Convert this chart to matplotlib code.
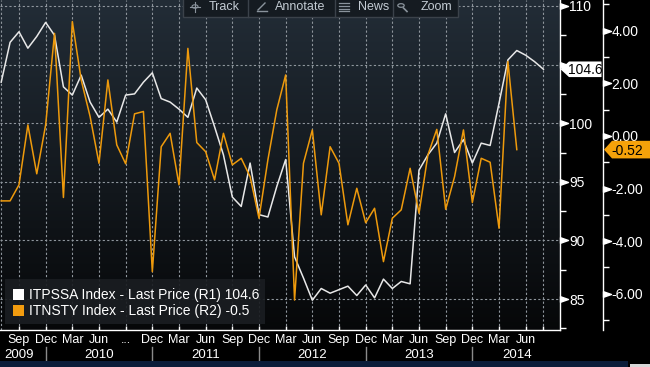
import numpy as np
import matplotlib
matplotlib.use('Agg')
import matplotlib.pyplot as plt
from matplotlib.transforms import blended_transform_factory
from matplotlib.patches import Rectangle, Polygon, Circle
from matplotlib.lines import Line2D
from matplotlib.path import Path

plt.rcParams['font.family'] = ['Liberation Sans', 'DejaVu Sans']

# ---------------- data (monthly, starting Jul 2009) ----------------
itpssa = [103.5, 106.9, 107.8, 106.4, 107.4, 108.6, 107.5, 103.1, 102.4, 104.1,
          101.8, 100.5, 101.2, 100.1, 102.4, 102.5, 103.5, 104.3, 102.1, 101.8,
          101.2, 100.5, 103.0, 102.0, 99.7, 97.3, 93.7, 92.9, 96.6, 92.2,
          92.0, 94.6, 96.9, 88.6, 86.8, 84.9, 85.9, 85.5, 85.8, 86.1,
          85.3, 86.2, 85.1, 86.7, 85.9, 86.5, 86.3, 96.0, 97.3, 98.3,
          100.8, 97.5, 98.6, 96.6, 98.3, 98.1, 101.7, 105.4, 106.2, 105.8,
          105.25, 104.6]
itnsty = [-2.47, -2.47, -1.86, 0.42, -1.44, 0.42, 3.90, -2.34, 4.35, 2.13,
          0.74, -1.04, 2.13, -0.34, -1.06, 0.84, 0.93, -5.16, -0.41, 0.10,
          -1.86, 3.33, -0.25, -0.60, -1.67, 0.10, -1.10, -0.85, -1.55, -3.13,
          -0.91, 0.99, 2.32, -6.24, -1.04, 0.23, -3.00, -0.41, -1.04, -3.38,
          -1.99, -3.30, -2.75, -4.78, -3.13, -2.81, -1.23, -2.94, -0.72, 0.25,
          -2.79, -1.55, 0.23, -2.53, -0.85, -1.00, -3.51, 2.83, -0.52]

tick_months = list(range(2, 60, 3))
tick_labels = ['Sep', 'Dec', 'Mar', 'Jun', '...', 'Dec', 'Mar', 'Jun', 'Sep', 'Dec',
               'Mar', 'Jun', 'Sep', 'Dec', 'Mar', 'Jun', 'Sep', 'Dec', 'Mar', 'Jun']
extra_ticks = [61]
years = ['2009', '2010', '2011', '2012', '2013', '2014']
year_pos = [2, 11, 23, 35, 47, 58]
year_sep = [5, 17, 29, 41, 53]

r1_labeled = [85, 90, 95, 100, 110]
r1_marks = [85, 90, 95, 100, 105, 110]
r1_minor = [82.5, 87.5, 92.5, 97.5, 102.5, 107.5]
r2_labeled = [-6, -4, -2, 0, 2, 4]
r2_minor = [-7, -5, -3, -1, 1, 3, 5]

legend_labels = ['ITPSSA Index - Last Price (R1) 104.6',
                 'ITNSTY Index - Last Price (R2) -0.5']

WHITE_LINE = '#e8e8e8'
ORANGE = '#ee9a0c'

W, H = 650, 367
fig = plt.figure(figsize=(W / 100, H / 100), dpi=100, facecolor='black')


def fx(px):
    return px / W


def fy(py):
    return 1 - py / H


AX_R = 560
AX_B = 330
ax = fig.add_axes([0, fy(AX_B), AX_R / W, AX_B / H])
ax.set_autoscale_on(False)
ax.set_facecolor('black')

# gradient background
top = np.array([0.135, 0.175, 0.215])
bot = np.array([0.025, 0.03, 0.035])
t = np.linspace(0, 1, 256)[:, None, None]
img = top * (1 - t) + bot * t
img = np.repeat(img, 2, axis=1)
ax.imshow(img, extent=[0, 1, 0, 1], transform=ax.transAxes, aspect='auto',
          zorder=0, interpolation='bilinear')

ax.set_xlim(-0.135, 62.86)
ax.set_ylim(82.36, 110.51)

# grid
grid_kw = dict(color='#8f969d', lw=0.8, ls=(0, (2, 2)), zorder=1)
for v in [0] + tick_months + extra_ticks:
    ax.axvline(v, **grid_kw)
for v in r1_marks:
    ax.axhline(v, **grid_kw)

x1 = np.arange(len(itpssa))
ax.plot(x1, itpssa, color=WHITE_LINE, lw=1.1, zorder=4)

ax2 = ax.twinx()
ax2.set_ylim(-7.38, 5.17)
x2 = np.arange(len(itnsty))
ax2.plot(x2, itnsty, color=ORANGE, lw=1.1, zorder=3)

# spines
for s in ['left', 'top']:
    ax.spines[s].set_visible(False)
ax.spines['right'].set_color('white')
ax.spines['bottom'].set_color('white')
ax.spines['right'].set_linewidth(1)
ax.spines['bottom'].set_linewidth(1)
for s in ['left', 'top', 'bottom']:
    ax2.spines[s].set_visible(False)
R2X = 603 / AX_R
ax2.spines['right'].set_position(('axes', R2X))
ax2.spines['right'].set_color('white')
ax2.spines['right'].set_linewidth(1)

# R1 ticks
ax.yaxis.tick_right()
ax.set_yticks(r1_labeled, [str(v) for v in r1_labeled])
ax.set_yticks(r1_minor, minor=True)
ax.tick_params(axis='y', which='major', length=0, pad=6.5, labelcolor='white', labelsize=10)
ax.tick_params(axis='y', which='minor', length=4, width=1, color='white', direction='out')

# R2 ticks
ax2.set_yticks(r2_labeled, ['%.2f' % v for v in r2_labeled])
ax2.set_yticks(r2_minor, minor=True)
ax2.tick_params(axis='y', which='major', length=0, pad=6, labelcolor='white', labelsize=10)
ax2.tick_params(axis='y', which='minor', length=4, width=1, color='white', direction='out')

# x ticks
ax.set_xticks(tick_months, tick_labels)
ax.set_xticks(extra_ticks, minor=True)
ax.tick_params(axis='x', which='both', length=3, width=1, direction='in', color='white',
               labelcolor='white', labelsize=9, pad=3)

# triangle tick markers
tri = Path([(0, -0.35), (0, 0.35), (1, 0), (0, -0.35)],
           [Path.MOVETO, Path.LINETO, Path.LINETO, Path.CLOSEPOLY])
ax.plot([1.0] * len(r1_marks), r1_marks,
        transform=blended_transform_factory(ax.transAxes, ax.transData),
        marker=tri, ms=11.5, color='white', ls='none', clip_on=False, zorder=6)
ax2.plot([R2X] * len(r2_labeled), r2_labeled,
         transform=blended_transform_factory(ax2.transAxes, ax2.transData),
         marker=tri, ms=11.5, color='white', ls='none', clip_on=False, zorder=6)

# years and separators
ytrans = blended_transform_factory(ax.transData, fig.transFigure)
for lab, p in zip(years, year_pos):
    ax.text(p, fy(355.5), lab, transform=ytrans, ha='center', va='center',
            color='white', fontsize=9.5, clip_on=False)
for s in year_sep:
    ax.add_line(Line2D([s, s], [fy(347), fy(362)], transform=ytrans,
                       color='#8a8a8a', lw=1, clip_on=False))

# legend
fig.add_artist(Rectangle((fx(5), fy(324)), 260 / W, 45 / H, transform=fig.transFigure,
                         facecolor='#1a1d21', edgecolor='none', alpha=0.92, zorder=10))
for i, (lab, col) in enumerate(zip(legend_labels, ['white', '#f29c0f'])):
    yc = 294.5 + i * 16.3
    fig.add_artist(Rectangle((fx(13), fy(yc + 5.5)), 11 / W, 11 / H,
                             transform=fig.transFigure, facecolor=col,
                             edgecolor='none', zorder=11))
    fig.text(fx(29), fy(yc), lab, color='white', fontsize=10, va='center',
             ha='left', zorder=12)

# toolbar
tb_col = '#c3cbd3'
icon_col = '#8a939c'
fig.add_artist(Rectangle((fx(183), fy(17)), (458 - 183) / W, 20 / H, transform=fig.transFigure,
                         facecolor='#151b21', edgecolor='#3b424a', lw=1, zorder=10))
for sx in [248, 335, 393]:
    fig.add_artist(Line2D([fx(sx), fx(sx)], [fy(17), fy(0)], transform=fig.transFigure,
                          color='#3b424a', lw=1, zorder=11))
for lab, lx in [('Track', 209), ('Annotate', 275), ('News', 358), ('Zoom', 421)]:
    fig.text(fx(lx), fy(7), lab, color=tb_col, fontsize=9, va='center', ha='left', zorder=12)
# icons
fig.add_artist(Circle((fx(195), fy(6.5)), 3 / W, transform=fig.transFigure, fill=False,
                      edgecolor=icon_col, lw=0.8, zorder=12))
fig.add_artist(Line2D([fx(190), fx(200)], [fy(6.5), fy(6.5)], transform=fig.transFigure,
                      color=icon_col, lw=0.8, zorder=12))
fig.add_artist(Line2D([fx(195), fx(195)], [fy(1.5), fy(11.5)], transform=fig.transFigure,
                      color=icon_col, lw=0.8, zorder=12))
fig.add_artist(Line2D([fx(258), fx(265)], [fy(10), fy(3)], transform=fig.transFigure,
                      color=icon_col, lw=1, zorder=12))
fig.add_artist(Line2D([fx(257), fx(267)], [fy(11), fy(11)], transform=fig.transFigure,
                      color=icon_col, lw=1, zorder=12))
for ly in [3, 6, 9, 11]:
    fig.add_artist(Line2D([fx(339), fx(349)], [fy(ly), fy(ly)], transform=fig.transFigure,
                          color=icon_col, lw=0.9, zorder=12))
fig.add_artist(Circle((fx(401), fy(5.5)), 3.2 / W, transform=fig.transFigure, fill=False,
                      edgecolor=icon_col, lw=0.9, zorder=12))
fig.add_artist(Line2D([fx(403.5), fx(407)], [fy(8), fy(11.5)], transform=fig.transFigure,
                      color=icon_col, lw=1.2, zorder=12))

# value callouts
fig.canvas.draw()
y1 = H - ax.transData.transform((0, itpssa[-1]))[1]
y2 = H - ax2.transData.transform((0, itnsty[-1]))[1]

p1 = [(560.5, y1), (569, y1 - 7.8), (601.5, y1 - 7.8), (601.5, y1 + 7.8), (569, y1 + 7.8)]
fig.add_artist(Polygon([(fx(a), fy(b)) for a, b in p1], closed=True, transform=fig.transFigure,
                       facecolor='white', edgecolor='none', zorder=13))
fig.text(fx(585), fy(y1 + 0.5), '%.1f' % itpssa[-1], color='black', fontsize=10,
         ha='center', va='center', zorder=14)

p2 = [(604, y2), (612, y2 - 8.8), (651, y2 - 8.8), (651, y2 + 8.8), (612, y2 + 8.8)]
fig.add_artist(Polygon([(fx(a), fy(b)) for a, b in p2], closed=True, transform=fig.transFigure,
                       facecolor='#f5a20a', edgecolor='none', zorder=13))
fig.text(fx(627.5), fy(y2 + 1.8), '%.2f' % itnsty[-1], color='black', fontsize=10,
         ha='center', va='center', zorder=14)

# bottom band
fig.add_artist(Rectangle((0, 0), fx(628), 6 / H, transform=fig.transFigure,
                         facecolor='#0b1d3a', edgecolor='none', zorder=10))
fig.add_artist(Rectangle((fx(630), 0), 20 / W, 3 / H, transform=fig.transFigure,
                         facecolor='#d8d8d8', edgecolor='none', zorder=10))

fig.savefig('out.png', dpi=100, facecolor='black')
